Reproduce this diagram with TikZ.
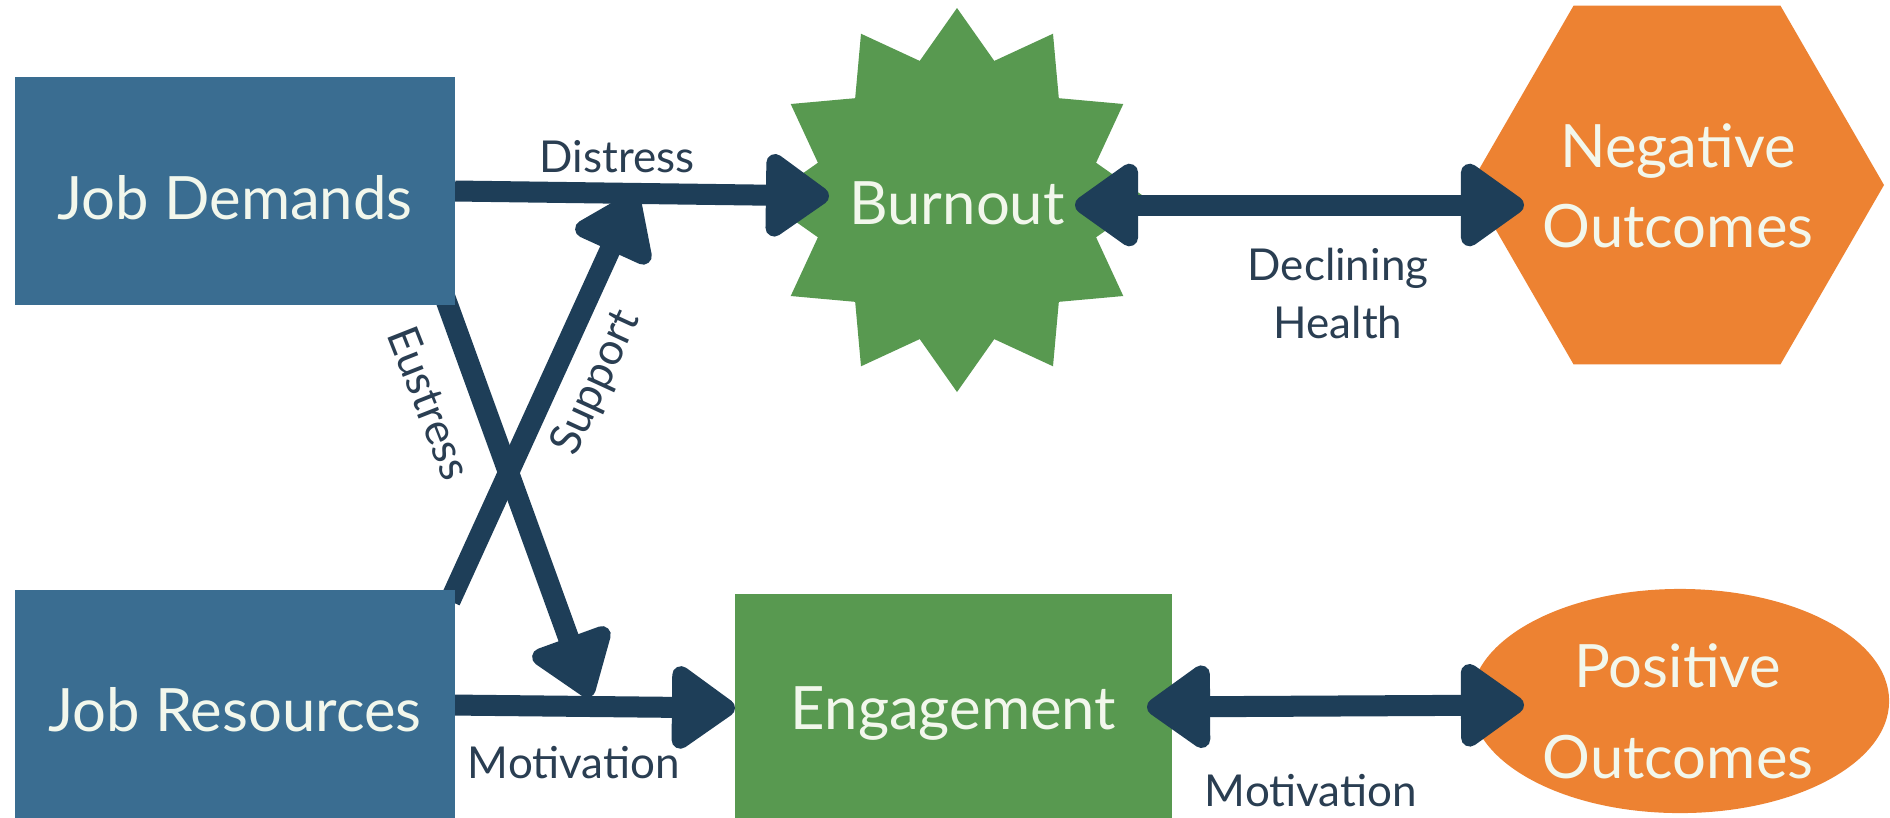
\documentclass[tikz,border=0pt]{standalone}
\usepackage{fontspec}
\setmainfont{Lato}
\usetikzlibrary{arrows.meta,shapes.geometric}
\definecolor{jblue}{RGB}{58,109,145}
\definecolor{jgreen}{RGB}{88,153,80}
\definecolor{jorange}{RGB}{237,130,50}
\definecolor{jnavy}{RGB}{30,62,88}
\definecolor{jlab}{RGB}{42,62,82}
\definecolor{jtext}{RGB}{242,247,236}
\pgfdeclarelayer{front}
\pgfsetlayers{main,front}
\begin{document}
\begin{tikzpicture}[x=0.01cm, y=-0.01cm,
  tipshape/.tip={Triangle[length=0.70cm,width=0.94cm,round]},
  conn/.style={draw=jnavy, line width=0.21cm, -tipshape},
  dconn/.style={draw=jnavy, line width=0.21cm, tipshape-tipshape},
  boxfill/.style={rectangle, inner sep=0pt, outer sep=0pt},
  boxtxt/.style={text=jtext, align=center, inner sep=0pt, font=\fontsize{17pt}{23pt}\selectfont},
  lab/.style={text=jlab, align=center, inner sep=0pt, font=\fontsize{12.5pt}{16.5pt}\selectfont}]
\useasboundingbox (0,0) rectangle (1890,817);
\clip (0,0) rectangle (1890,817);
\fill[white] (0,0) rectangle (1890,817);

% front boxes (drawn over the start of the connectors)
\begin{pgfonlayer}{front}
  \node[boxfill, fill=jblue, minimum width=4.4cm, minimum height=2.28cm] (jd) at (235,191) {};
  \node[boxtxt] (jdt) at (235,198) {Job Demands};
  \node[boxfill, fill=jblue, minimum width=4.4cm, minimum height=2.4cm, boxtxt] (jr) at (235,710) {Job Resources};
\end{pgfonlayer}

% Burnout star
\begin{scope}[shift={(957,200)}]
  \fill[jgreen] (90:192) \foreach \i in {0,...,11} { -- ({105+30*\i}:144) -- ({120+30*\i}:192) } -- cycle;
\end{scope}
\node[boxtxt] (burnout) at (957,203) {Burnout};

% Negative outcomes hexagon
\fill[jorange] (1677,185) +(0:207) -- +(60:207) -- +(120:207) -- +(180:207) -- +(240:207) -- +(300:207) -- cycle;
\node[boxtxt, font=\fontsize{17pt}{22.8pt}\selectfont] (negout) at (1678,186) {Negative\\Outcomes};

% Engagement box
\node[boxfill, fill=jgreen, minimum width=4.37cm, minimum height=2.4cm, boxtxt] (eng) at (953.5,714) {Engagement};

% Positive outcomes ellipse
\node[ellipse, fill=jorange, inner sep=0pt, minimum width=4.18cm, minimum height=2.24cm] (posell) at (1680,701) {};
\node[boxtxt, font=\fontsize{17pt}{25.9pt}\selectfont] (posout) at (1678,711) {Positive\\Outcomes};

% connector end points
\coordinate (dtip) at (829,196);
\coordinate (m0) at (450,705);
\coordinate (mtip) at (735,708);
\coordinate (e0) at (443,292);
\coordinate (etip) at (590,697);
\coordinate (s0) at (450,601);
\coordinate (stip) at (636,193);
\coordinate (dh0) at (1075,205);
\coordinate (dh1) at (1524,205);
\coordinate (mp0) at (1147,707);
\coordinate (mp1) at (1524,705);

% connectors
\draw[conn] (jd.east) -- (dtip);
\draw[conn] (m0) -- (mtip);
\draw[conn] (s0) -- (stip);
\draw[conn] (e0) -- (etip);
\draw[dconn] (dh0) -- (dh1);
\draw[dconn] (mp0) -- (mp1);

% labels
\node[lab] (ldis) at (617,157) {Distress};
\node[lab] (ldh) at (1338,293) {Declining\\Health};
\node[lab] (lmot1) at (574,763) {Motivation};
\node[lab] (lmot2) at (1311,791) {Motivation};
\node[lab, rotate=-68.5] (leus) at (430,403) {Eustress};
\node[lab, rotate=65.3] (lsup) at (597,383) {Support};
\end{tikzpicture}
\end{document}
